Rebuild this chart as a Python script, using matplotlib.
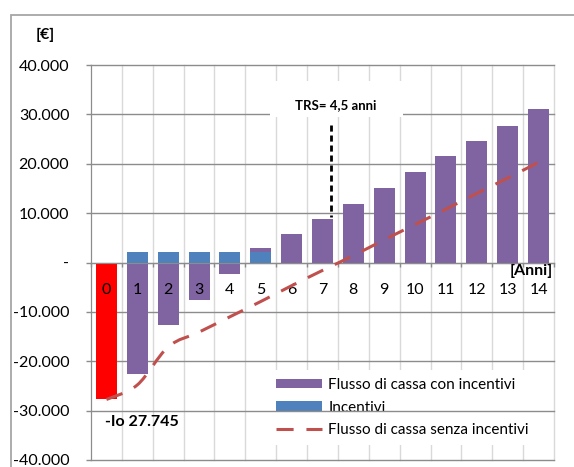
import matplotlib
matplotlib.use("Agg")
import matplotlib.pyplot as plt
from matplotlib.patches import Rectangle, Patch, PathPatch
from matplotlib.lines import Line2D
from matplotlib.path import Path

plt.rcParams["font.family"] = ["Lato", "DejaVu Sans"]

# data (euro, cumulative)
anni = list(range(15))
flusso_con = [-27745, -22600, -12700, -7500, -2300, 2900, 5800, 8900,
              11900, 15100, 18400, 21500, 24600, 27600, 31100]
incentivi = [0, 2100, 2100, 2100, 2100, 2100, 0, 0, 0, 0, 0, 0, 0, 0, 0]
flusso_senza = [-27745, -24800, -17100, -14100, -11000, -7900, -4700, -1600,
                1400, 4600, 7700, 10800, 14000, 17100, 20300]
y_ticks = [-40000, -30000, -20000, -10000, 0, 10000, 20000, 30000, 40000]
y_labels = ["-40.000", "-30.000", "-20.000", "-10.000", "-",
            "10.000", "20.000", "30.000", "40.000"]
series_names = ["Flusso di cassa con incentivi", "Incentivi",
                "Flusso di cassa senza incentivi"]
trs_label = "TRS= 4,5 anni"
io_label = "-Io 27.745"

PURPLE = "#8064a2"
BLUE = "#4f81bd"
RED_BAR = "#ff0000"
RED_LINE = "#c0504d"
GRID_H = "#8c8c8c"
GRID_V = "#d9d9d9"


def smooth_path(xs, ys):
    """Excel-like smoothed line as a cubic bezier path."""
    pts = list(zip(xs, ys))
    verts = [pts[0]]
    codes = [Path.MOVETO]
    n = len(pts)
    for i in range(n - 1):
        p0 = pts[i - 1] if i > 0 else pts[i]
        p1 = pts[i]
        p2 = pts[i + 1]
        p3 = pts[i + 2] if i + 2 < n else pts[i + 1]
        c1 = (p1[0] + (p2[0] - p0[0]) / 6, p1[1] + (p2[1] - p0[1]) / 6)
        c2 = (p2[0] - (p3[0] - p1[0]) / 6, p2[1] - (p3[1] - p1[1]) / 6)
        verts += [c1, c2, p2]
        codes += [Path.CURVE4] * 3
    return Path(verts, codes)


fig = plt.figure(figsize=(5.74, 4.67), dpi=100)
ax = fig.add_axes([0.1585, 0.015, 0.8066, 0.8458])

# outer chart border
fig.add_artist(Rectangle((11 / 574, -0.2), 1.0, 1.2 - 15 / 467,
                         transform=fig.transFigure, fill=False,
                         edgecolor="#a6a6a6", lw=1.3))

ax.set_xlim(-0.5, 14.5)
ax.set_ylim(-40000, 40000)

# gridlines
for i in range(len(anni) + 1):
    ax.axvline(i - 0.5, color=GRID_V, lw=1, zorder=0.5, clip_on=False)
for t in y_ticks:
    ax.axhline(t, color=GRID_H, lw=1, zorder=1.5, clip_on=False)

# bars
bar_colors = [RED_BAR] + [PURPLE] * (len(anni) - 1)
ax.bar(anni, flusso_con, width=0.68, color=bar_colors, zorder=2)
ax.bar(anni, incentivi, width=0.68, color=BLUE, zorder=2.1)

# smoothed dashed line
dash = (0, (5.6, 4.2))
ax.add_patch(PathPatch(smooth_path(anni, flusso_senza), fill=False,
                       edgecolor=RED_LINE, lw=2.2, linestyle=dash,
                       capstyle="butt", zorder=3))

# TRS marker
trs_x = 7.28
ax.add_patch(Rectangle((5.3, 29500), 4.3, 7300, facecolor="white",
                       edgecolor="none", zorder=1.8))
ax.plot([trs_x, trs_x], [27900, flusso_con[7] + 300], color="black",
        lw=2, linestyle=(0, (2.2, 1.4)), zorder=3)
ax.text(7.44, 31900, trs_label, ha="center", va="center", fontsize=9.5,
        fontweight="bold", zorder=4)

ax.text(-0.05, -32300, io_label, ha="left", va="center", fontsize=11.5,
        fontweight="bold", zorder=4)

# axes styling
for side in ["top", "right"]:
    ax.spines[side].set_visible(False)
ax.spines["left"].set_color(GRID_H)
ax.spines["bottom"].set_position(("data", 0))
ax.spines["bottom"].set_color(GRID_H)
ax.set_axisbelow(False)

ax.set_yticks(y_ticks)
ax.set_yticklabels(y_labels)
ax.tick_params(axis="y", length=3.6, width=1, color=GRID_H, pad=12,
               labelsize=11.5)
ax.set_xticks(anni)
ax.set_xticklabels([str(a) for a in anni])
ax.set_xticks([i - 0.5 for i in range(len(anni) + 1)], minor=True)
ax.tick_params(axis="x", which="major", length=0, pad=15, labelsize=11.5)
ax.tick_params(axis="x", which="minor", length=3, width=1, color=GRID_H)

fig.text(45 / 574, 1 - 35 / 467, "[€]", ha="center", va="center",
         fontsize=11.5, fontweight="bold")
ax.text(14.45, -1750, "[Anni]", ha="right", va="center", fontsize=11.5,
        fontweight="bold", zorder=4)

handles = [Patch(facecolor=PURPLE), Patch(facecolor=BLUE),
           Line2D([0], [0], color=RED_LINE, lw=2.2, linestyle=dash)]
leg = ax.legend(handles, series_names, loc="upper left",
                bbox_to_anchor=(0.384, 0.227), borderaxespad=0,
                fontsize=11, frameon=True, facecolor="white",
                edgecolor="none", framealpha=1, fancybox=False,
                borderpad=0.5, labelspacing=0.56, handlelength=3.0,
                handleheight=0.59, handletextpad=0.4)
leg.set_zorder(1)

fig.savefig("out.png", dpi=100)
